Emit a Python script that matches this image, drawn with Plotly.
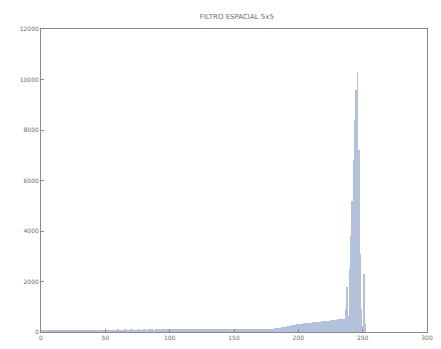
import plotly.graph_objects as go

# Gray-level histogram of the 5x5 spatially filtered image (levels 0..255)
levels = list(range(256))

counts_0_63 = [
    95, 88, 92, 80, 85, 90, 78, 84, 86, 92, 88, 81, 79, 85, 90, 87,
    83, 80, 86, 91, 89, 84, 82, 88, 93, 90, 85, 83, 87, 92, 94, 89,
    86, 84, 90, 95, 92, 88, 85, 91, 96, 93, 89, 87, 92, 97, 95, 90,
    88, 93, 98, 96, 92, 90, 94, 99, 97, 93, 91, 95, 100, 98, 94, 92,
]
counts_64_127 = [
    96, 101, 99, 95, 93, 97, 102, 100, 96, 94, 98, 103, 101, 97, 95, 99,
    104, 102, 98, 96, 100, 105, 103, 99, 97, 101, 106, 104, 100, 98, 102, 107,
    105, 101, 99, 103, 108, 106, 102, 100, 104, 109, 107, 103, 101, 105, 110, 108,
    104, 102, 106, 111, 109, 105, 103, 107, 112, 110, 106, 104, 108, 113, 111, 107,
]
counts_128_191 = [
    105, 109, 114, 112, 108, 106, 110, 115, 113, 109, 107, 111, 116, 114, 110, 108,
    112, 117, 115, 111, 109, 113, 118, 116, 112, 110, 114, 119, 117, 113, 111, 115,
    120, 118, 114, 112, 116, 121, 119, 115, 113, 117, 122, 120, 116, 114, 118, 123,
    121, 117, 120, 126, 132, 138, 145, 152, 160, 168, 176, 185, 194, 203, 212, 222,
]
counts_192_255 = [
    232, 242, 252, 262, 272, 282, 290, 298, 306, 314, 322, 330, 338, 345, 352, 358,
    364, 370, 376, 382, 388, 394, 400, 405, 410, 415, 420, 425, 430, 436, 442, 448,
    454, 460, 466, 472, 478, 484, 490, 496, 502, 508, 514, 520, 526,
    900, 1800, 650, 2500, 3800, 5200, 6800, 8400, 9600, 10300,
    7200, 3100, 900, 250, 2300, 300, 0, 0, 0,
]
counts = counts_0_63 + counts_64_127 + counts_128_191 + counts_192_255

title_text = "FILTRO ESPACIAL 5x5"
x_ticks = [0, 50, 100, 150, 200, 250, 300]
y_ticks = [0, 2000, 4000, 6000, 8000, 10000, 12000]

bar_color = "#b3c1da"
axis_color = "#8a8a8a"
tick_font = dict(family="DejaVu Sans", size=6, color="#6e6e6e")

fig = go.Figure()
fig.add_trace(go.Bar(
    x=levels,
    y=counts,
    width=0.7,
    marker=dict(color=bar_color, line=dict(width=0)),
))

fig.update_layout(
    width=441,
    height=349,
    margin=dict(l=41, r=8, t=29, b=17),
    paper_bgcolor="white",
    plot_bgcolor="white",
    showlegend=False,
    bargap=0,
    title=dict(
        text=title_text,
        x=0.537, xanchor="center",
        y=0.952, yanchor="middle",
        font=dict(family="DejaVu Sans", size=7, color="#6e6e6e"),
    ),
)

axis_style = dict(
    tickmode="array",
    ticks="inside",
    ticklen=3,
    tickcolor=axis_color,
    showline=True,
    linecolor=axis_color,
    linewidth=1,
    mirror=True,
    showgrid=False,
    zeroline=False,
    tickfont=tick_font,
)
fig.update_xaxes(
    range=[0, 300],
    tickvals=x_ticks,
    ticktext=[str(v) for v in x_ticks],
    **axis_style,
)
fig.update_yaxes(
    range=[0, 12000],
    tickvals=y_ticks,
    ticktext=[str(v) for v in y_ticks],
    **axis_style,
)

fig.write_html("out.html")
